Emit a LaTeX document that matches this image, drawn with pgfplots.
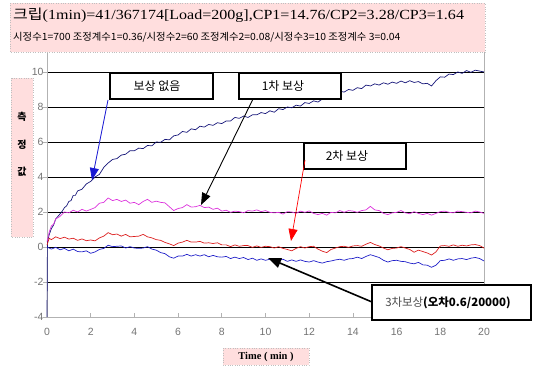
\documentclass[border=0pt]{standalone}
\usepackage{pgfplots}
\pgfplotsset{compat=1.18}
\usetikzlibrary{arrows.meta}
\usepackage{fontspec}
\setmainfont{Liberation Serif}
\newfontfamily\cjk{Noto Sans CJK KR}
\newfontfamily\sans{Liberation Sans}
\definecolor{tpink}{RGB}{255,222,222}
\definecolor{s1}{RGB}{20,20,120}
\definecolor{s2}{RGB}{220,50,220}
\definecolor{s3}{RGB}{220,30,30}
\definecolor{s4}{RGB}{30,30,200}
\newcommand{\fs}[1]{\fontsize{#1}{#1}\selectfont}
\newcommand{\PP}[2]{(#1,{366-#2})}
\begin{document}
\begin{tikzpicture}[x=1bp,y=1bp]
\useasboundingbox (0,0) rectangle (538,366);
\begin{axis}[at={(47bp,49bp)}, anchor=south west, scale only axis,
  width=437bp, height=265bp,
  xmin=0, xmax=20, ymin=-4, ymax=11.14,
  xtick={0,2,...,20}, ytick={-4,-2,...,10},
  axis line style={draw=gray!60, line width=1pt},
  ymajorgrids, major grid style={black, line width=0.6pt},
  xtick pos=lower, ytick pos=left,
  tick align=inside, major tick length=4bp,
  tick style={draw=gray!60, line width=0.8pt},
  ytick style={xshift=-4bp},
  /pgf/number format/assume math mode=true,
  tick label style={font=\sans\fs{10.5}, text=gray!90!black},
  xticklabel style={yshift=-8bp},
  clip=false,
  every axis plot/.style={line width=0.7pt, mark=none},
]
\addplot[s1] coordinates {(0,-4) (0.02,0.3) (0.1,0.7) (0.2,1.05) (0.3,1.25) (0.4,1.6) (0.5,1.75) (0.6,1.9) (0.7,2.05) (0.8,2.25) (0.9,2.35) (1.0,2.6) (1.1,2.65) (1.2,2.95) (1.3,2.95) (1.4,3.2) (1.6,3.3) (1.8,3.6) (2.0,3.75) (2.2,4.0) (2.4,4.15) (2.6,4.55) (2.8,4.8) (3.0,5.0) (3.2,5.05) (3.4,5.25) (3.6,5.3) (3.8,5.5) (4.0,5.5) (4.2,5.65) (4.4,5.62) (4.6,5.8) (4.8,5.78) (5.0,6.0) (5.2,5.98) (5.4,6.15) (5.6,6.12) (5.8,6.35) (6.0,6.4) (6.2,6.6) (6.4,6.55) (6.6,6.75) (6.8,6.7) (7.0,6.9) (7.2,6.85) (7.4,7.0) (7.6,6.95) (7.8,7.1) (8.0,7.05) (8.2,7.2) (8.4,7.2) (8.6,7.4) (8.8,7.35) (9.0,7.48) (9.2,7.4) (9.4,7.55) (9.6,7.55) (9.8,7.68) (10.0,7.62) (10.2,7.78) (10.4,7.7) (10.6,7.9) (10.8,7.85) (11.0,8.0) (11.2,7.95) (11.4,8.1) (11.6,8.05) (11.8,8.25) (12.0,8.2) (12.2,8.35) (12.4,8.28) (12.6,8.45) (12.8,8.45) (13.0,8.65) (13.2,8.65) (13.4,8.9) (13.6,8.85) (13.8,9.0) (14.0,8.95) (14.2,9.1) (14.4,9.05) (14.6,9.25) (14.8,9.2) (15.0,9.32) (15.2,9.25) (15.4,9.38) (15.6,9.3) (15.8,9.42) (16.0,9.35) (16.2,9.48) (16.4,9.38) (16.6,9.5) (16.8,9.4) (17.0,9.45) (17.2,9.32) (17.4,9.35) (17.6,9.2) (17.8,9.5) (18.0,9.72) (18.2,9.7) (18.4,9.88) (18.6,9.85) (18.8,10.0) (19.0,9.92) (19.2,10.08) (19.4,9.98) (19.6,10.1) (19.8,10.05) (20.0,10.0)};
\addplot[s2] coordinates {(0,0.3) (0.1,0.85) (0.2,1.2) (0.3,1.3) (0.4,1.6) (0.6,1.75) (0.8,2.0) (1.0,1.95) (1.2,2.1) (1.4,2.0) (1.6,2.15) (1.8,2.05) (2.0,2.15) (2.2,2.25) (2.4,2.5) (2.6,2.55) (2.8,2.8) (3.0,2.65) (3.2,2.72) (3.4,2.6) (3.6,2.68) (3.8,2.5) (4.0,2.55) (4.2,2.42) (4.4,2.6) (4.6,2.72) (4.8,2.55) (5.0,2.62) (5.2,2.55) (5.4,2.52) (5.6,2.3) (5.8,2.08) (6.0,2.2) (6.2,2.25) (6.4,2.42) (6.6,2.28) (6.8,2.3) (7.0,2.38) (7.2,2.25) (7.4,2.28) (7.6,2.15) (7.8,2.22) (8.0,2.05) (8.2,2.1) (8.4,1.98) (8.6,2.05) (8.8,2.02) (9.0,1.95) (9.2,2.08) (9.4,2.05) (9.6,2.12) (9.8,2.02) (10.0,2.08) (10.2,1.98) (10.4,1.95) (10.6,1.98) (10.8,1.88) (11.0,2.02) (11.2,2.0) (11.4,1.92) (11.6,2.05) (11.8,1.98) (12.0,2.06) (12.2,1.92) (12.4,1.85) (12.6,1.92) (12.8,1.82) (13.0,1.98) (13.2,1.95) (13.4,2.08) (13.6,1.98) (13.8,2.08) (14.0,2.05) (14.2,1.98) (14.4,2.08) (14.6,2.12) (14.8,2.32) (15.0,2.12) (15.2,2.08) (15.4,1.92) (15.6,1.85) (15.8,1.95) (16.0,1.98) (16.2,2.08) (16.4,1.95) (16.6,1.9) (16.8,2.02) (17.0,1.92) (17.2,1.85) (17.4,1.92) (17.6,1.82) (17.8,1.92) (18.0,2.02) (18.2,2.05) (18.4,1.98) (18.6,1.95) (18.8,2.05) (19.0,2.02) (19.2,1.98) (19.4,1.95) (19.6,2.05) (19.8,2.0) (20.0,1.92)};
\addplot[s3] coordinates {(0,0.1) (0.1,0.5) (0.2,0.42) (0.4,0.58) (0.6,0.48) (0.8,0.56) (1.0,0.45) (1.2,0.5) (1.4,0.38) (1.6,0.46) (1.8,0.36) (2.0,0.4) (2.2,0.35) (2.4,0.52) (2.6,0.62) (2.8,0.82) (3.0,0.7) (3.2,0.74) (3.4,0.62) (3.6,0.72) (3.8,0.58) (4.0,0.6) (4.2,0.62) (4.4,0.72) (4.6,0.58) (4.8,0.52) (5.0,0.42) (5.2,0.38) (5.4,0.26) (5.6,0.18) (5.8,0.08) (6.0,0.22) (6.2,0.28) (6.4,0.38) (6.6,0.28) (6.8,0.28) (7.0,0.32) (7.2,0.22) (7.4,0.24) (7.6,0.2) (7.8,0.24) (8.0,0.12) (8.2,0.12) (8.4,0.02) (8.6,0.12) (8.8,0.04) (9.0,0.08) (9.2,0.08) (9.4,-0.02) (9.6,0.06) (9.8,-0.02) (10.0,0.04) (10.2,0.02) (10.4,-0.06) (10.6,0.02) (10.8,-0.08) (11.0,-0.14) (11.2,-0.22) (11.4,-0.08) (11.6,0.02) (11.8,-0.06) (12.0,0.02) (12.2,0.04) (12.4,-0.12) (12.6,-0.24) (12.8,-0.32) (13.0,-0.14) (13.2,-0.06) (13.4,0.02) (13.6,0.04) (13.8,-0.02) (14.0,0.06) (14.2,0.08) (14.4,0.04) (14.6,0.16) (14.8,0.26) (15.0,0.14) (15.2,0.06) (15.4,-0.06) (15.6,-0.16) (15.8,-0.08) (16.0,-0.06) (16.2,0.02) (16.4,-0.06) (16.6,-0.14) (16.8,-0.3) (17.0,-0.18) (17.2,-0.26) (17.4,-0.34) (17.6,-0.46) (17.8,-0.28) (18.0,0.06) (18.2,0.08) (18.4,0.04) (18.6,0.12) (18.8,0.04) (19.0,0.1) (19.2,0.06) (19.4,0.12) (19.6,0.14) (19.8,0.08) (20.0,-0.06)};
\addplot[s4] coordinates {(0,0.0) (0.2,-0.12) (0.4,-0.02) (0.6,-0.16) (0.8,-0.08) (1.0,-0.22) (1.2,-0.12) (1.4,-0.26) (1.6,-0.28) (1.8,-0.22) (2.0,-0.36) (2.2,-0.28) (2.4,-0.14) (2.6,-0.08) (2.8,0.1) (3.0,0.02) (3.2,0.04) (3.4,0.06) (3.6,-0.06) (3.8,0.02) (4.0,-0.06) (4.2,-0.08) (4.4,-0.06) (4.6,0.02) (4.8,-0.12) (5.0,-0.18) (5.2,-0.32) (5.4,-0.38) (5.6,-0.56) (5.8,-0.64) (6.0,-0.52) (6.2,-0.52) (6.4,-0.42) (6.6,-0.52) (6.8,-0.44) (7.0,-0.52) (7.2,-0.44) (7.4,-0.56) (7.6,-0.48) (7.8,-0.56) (8.0,-0.58) (8.2,-0.54) (8.4,-0.66) (8.6,-0.58) (8.8,-0.66) (9.0,-0.6) (9.2,-0.72) (9.4,-0.64) (9.6,-0.76) (9.8,-0.68) (10.0,-0.76) (10.2,-0.7) (10.4,-0.82) (10.6,-0.74) (10.8,-0.7) (11.0,-0.82) (11.2,-0.74) (11.4,-0.82) (11.6,-0.74) (11.8,-0.82) (12.0,-0.86) (12.2,-0.78) (12.4,-0.86) (12.6,-0.92) (12.8,-0.84) (13.0,-0.8) (13.2,-0.74) (13.4,-0.7) (13.6,-0.76) (13.8,-0.68) (14.0,-0.66) (14.2,-0.58) (14.4,-0.66) (14.6,-0.54) (14.8,-0.44) (15.0,-0.52) (15.2,-0.6) (15.4,-0.76) (15.6,-0.86) (15.8,-0.78) (16.0,-0.76) (16.2,-0.82) (16.4,-0.84) (16.6,-0.92) (16.8,-0.96) (17.0,-0.88) (17.2,-1.02) (17.4,-1.04) (17.6,-1.16) (17.8,-1.04) (18.0,-0.78) (18.2,-0.76) (18.4,-0.68) (18.6,-0.76) (18.8,-0.68) (19.0,-0.66) (19.2,-0.72) (19.4,-0.64) (19.6,-0.6) (19.8,-0.66) (20.0,-0.8)};
\end{axis}
% title box
\draw[draw=gray!50, dotted, fill=tpink] \PP{10}{3} rectangle \PP{485}{52};
\node[anchor=west, inner sep=0] at \PP{13}{15} {\scalebox{1.15}[1]{\fs{14}{\cjk 크립}(1min)=41/367174[Load=200g],CP1=14.76/CP2=3.28/CP3=1.64}};
\node[anchor=west, inner sep=0] at \PP{13}{37} {\scalebox{1.04}[1]{\cjk\fs{10}시정수1=700 조정계수1=0.36/시정수2=60 조정계수2=0.08/시정수3=10 조정계수 3=0.04}};
% y label box
\draw[draw=gray!50, dotted, fill=tpink] \PP{11}{78} rectangle \PP{33}{237};
\node[font=\cjk\bfseries\fs{10}] at \PP{22}{117} {측};
\node[font=\cjk\bfseries\fs{10}] at \PP{22}{145} {정};
\node[font=\cjk\bfseries\fs{10}] at \PP{22}{172} {값};
% x label box
\draw[draw=gray!50, dotted, fill=tpink] \PP{223}{348} rectangle \PP{309}{365};
\node[font=\bfseries\fs{10.5}] at \PP{266}{356.5} {Time ( min )};
% annotation boxes
\draw[line width=1.2pt, fill=white] \PP{110}{73} rectangle \PP{213}{99};
\node[font=\cjk\fs{12}] at \PP{157}{86} {보상 없음};
\draw[line width=1.2pt, fill=white] \PP{239}{73} rectangle \PP{341}{99};
\node[font=\cjk\fs{12}] at \PP{283}{86} {1차 보상};
\draw[line width=1.2pt, fill=white] \PP{304}{143} rectangle \PP{406}{169};
\node[font=\cjk\fs{12}] at \PP{347}{156} {2차 보상};
\draw[line width=1.2pt, fill=white] \PP{372}{285} rectangle \PP{531}{320};
\node[font=\cjk\fs{11.5}] at \PP{448}{302.5} {\color{black!70}3차보상\color{black}\bfseries(오차0.6/20000)};
% arrows
\draw[s4!80!blue, line width=0.8pt, -{Triangle[length=12bp,width=9bp]}] \PP{108}{100} -- \PP{92}{180};
\draw[black, line width=0.9pt, -{Triangle[length=12bp,width=9bp]}] \PP{253}{99} -- \PP{201}{205};
\draw[red, line width=0.7pt, -{Triangle[length=12bp,width=9bp]}] \PP{305}{160} -- \PP{291}{241};
\draw[black, line width=1.6pt, -{Triangle[length=13bp,width=10bp]}] \PP{372}{302} -- \PP{268}{258};
\end{tikzpicture}
\end{document}
